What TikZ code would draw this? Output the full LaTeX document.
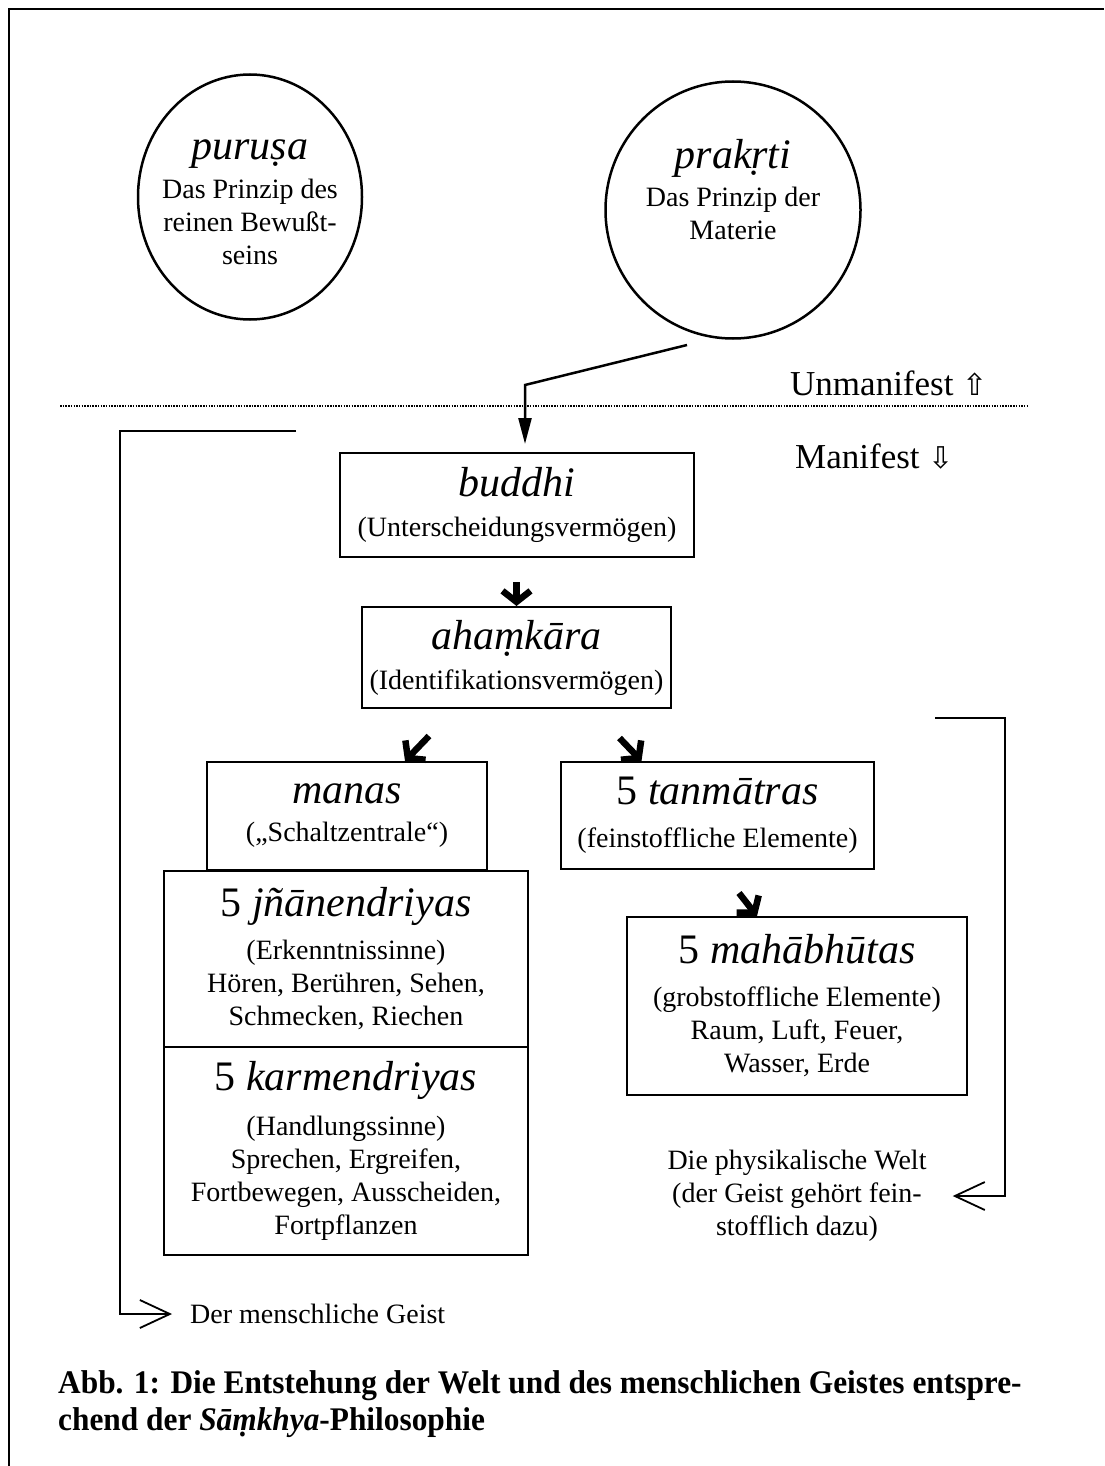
\documentclass[tikz,border=0pt]{standalone}
\usepackage{fontspec}
\setmainfont{Liberation Serif}
\newfontfamily\symfont{DejaVu Sans}
\newfontfamily\capfont{Liberation Serif}[FakeStretch=0.95]
\usetikzlibrary{arrows.meta,shapes.geometric,calc}
\newcommand\hd{\fontsize{42}{46}\selectfont\itshape}
\newcommand\bd{\fontsize{28}{33}\selectfont}
\begin{document}
\begin{tikzpicture}[x=1pt,y=-1pt,
  box/.style={draw, line width=2pt, inner sep=0pt, align=center, font=\bd},
  circ/.style={draw, ellipse, line width=2.5pt, inner sep=0pt},
  txt/.style={align=center, font=\bd, inner sep=2pt},
  mainarrow/.style={line width=2.5pt, -{Triangle[length=26pt,width=13pt]}},
  thk/.style={line width=6.5pt, -{Straight Barb[length=11pt,width=28pt]}},
  brk/.style={line width=1.8pt, -{Straight Barb[length=30pt,width=28pt]}}]
\useasboundingbox (0,0) rectangle (1104,1466);
\fill[white] (0,0) rectangle (1104,1466);
% frame
\draw[line width=2.5pt] (9,1466) -- (9,9) -- (1104,9);

% circles
\node[circ, minimum width=224, minimum height=245] (purusa) at (250,197) {};
\node[txt] (purusaT) at (250,202) {\hd puruṣa\\[6pt]Das Prinzip des\\reinen Bewußt-\\seins};
\node[circ, minimum width=255, minimum height=257] (prakrti) at (733,210) {};
\node[txt] (prakrtiT) at (733,190) {\hd prakṛti\\[5pt]Das Prinzip der\\Materie};

% divider
\draw[line width=2pt, dash pattern=on 1.5pt off 1.2pt] (60,406) -- (1027,406);
\node[anchor=west, font=\fontsize{35}{40}\selectfont, inner sep=0pt] (unman) at (790,383) {Unmanifest {\symfont\fontsize{30}{34}\selectfont ⇧}};
\node[anchor=west, font=\fontsize{35}{40}\selectfont, inner sep=0pt] (man) at (795,457) {Manifest {\symfont\fontsize{30}{34}\selectfont ⇩}};

% boxes
\node[box, minimum width=354, minimum height=104] (buddhi) at (517,505) {\hd buddhi\\[7pt](Unterscheidungsvermögen)};
\node[box, minimum width=309, minimum height=101] (aham) at (516.5,657.5) {\hd ahaṃkāra\\[7pt](Identifikationsvermögen)};
\node[box, minimum width=280, minimum height=108] (manas) at (347,816) {\hd manas\\[5pt](„Schaltzentrale“)};
\node[box, minimum width=313, minimum height=107] (tanm) at (717.5,815.5) {\hd {\upshape 5} tanmātras\\[10pt](feinstoffliche Elemente)};
\node[box, minimum width=364, minimum height=176] (jnan) at (346,959) {\hd {\upshape 5} jñānendriyas\\[10pt](Erkenntnissinne)\\Hören, Berühren, Sehen,\\Schmecken, Riechen};
\node[box, minimum width=364, minimum height=208] (karm) at (346,1151) {\hd {\upshape 5} karmendriyas\\[12pt](Handlungssinne)\\Sprechen, Ergreifen,\\Fortbewegen, Ausscheiden,\\Fortpflanzen};
\node[box, minimum width=340, minimum height=178] (maha) at (797,1006) {\hd {\upshape 5} mahābhūtas\\[10pt](grobstoffliche Elemente)\\Raum, Luft, Feuer,\\Wasser, Erde};

% labels
\node[txt] (phys) at (797,1196) {Die physikalische Welt\\(der Geist gehört fein-\\stofflich dazu)};
\node[txt, anchor=west] (geist) at (188,1314) {Der menschliche Geist};

% arrows
\coordinate (pk) at (687,345);
\coordinate (bend) at (525,385);
\draw[mainarrow, shorten >=8pt] (pk) -- (bend) -- (bend |- buddhi.north);
\draw[thk, shorten <=24pt] (buddhi.south -| aham.north) -- (aham.north);
\draw[thk] ($(manas.north)+(82,-25)$) -- ($(manas.north)+(58,0)$);
\draw[thk] ($(tanm.north)+(-98,-23)$) -- ($(tanm.north)+(-76,0)$);
\draw[thk] ($(maha.north)+(-58,-23)$) -- ($(maha.north)+(-40,0)$);

% brackets
\coordinate (lb) at (296,431);
\draw[brk, line join=miter, shorten >=16pt] (lb) -- (120,431) |- (geist.west);
\coordinate (rb) at (935,718);
\draw[brk, line join=miter, shorten >=24pt] (rb) -- (1005,718) |- (phys.east);

% caption
\node[anchor=north west, align=left, inner sep=0pt, font=\capfont\bfseries\fontsize{33}{37}\selectfont] (cap) at (58,1370)
 {Abb. 1: Die Entstehung der Welt und des menschlichen Geistes entspre-\\chend der {\itshape Sāṃkhya}-Philosophie};
\end{tikzpicture}
\end{document}
